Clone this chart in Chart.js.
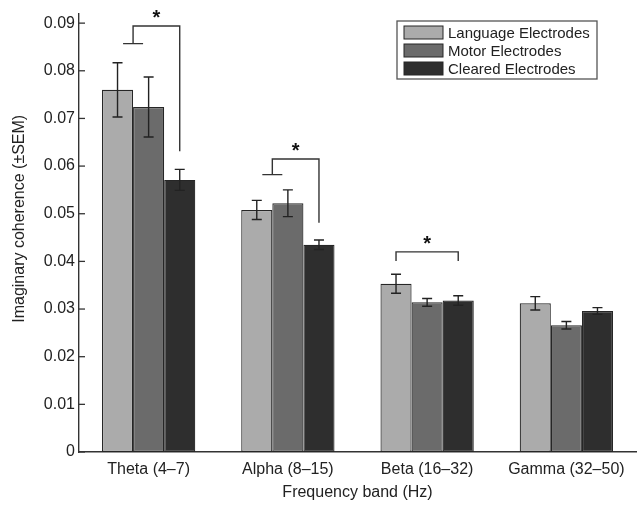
<!DOCTYPE html>
<html>
<head>
<meta charset="utf-8">
<script src="https://cdn.jsdelivr.net/npm/chart.js@4/dist/chart.umd.min.js"></script>
<style>
  html, body { margin: 0; padding: 0; background: #fff; }
  #wrap { width: 644px; height: 506px; }
</style>
</head>
<body>
<div id="wrap"><canvas id="cohChart"></canvas></div>
<script>
const categories = ["Theta (4\u20137)", "Alpha (8\u201315)", "Beta (16\u201332)", "Gamma (32\u201350)"];
const seriesNames = ["Language Electrodes", "Motor Electrodes", "Cleared Electrodes"];
const language = [0.0760, 0.0508, 0.0353, 0.0312];
const motor = [0.0724, 0.0522, 0.0314, 0.0266];
const cleared = [0.0571, 0.0435, 0.0318, 0.0296];
const languageSem = [0.0057, 0.0020, 0.0020, 0.0014];
const motorSem = [0.0063, 0.0028, 0.0008, 0.0008];
const clearedSem = [0.0022, 0.0010, 0.0010, 0.0007];
const yTicks = [0, 0.01, 0.02, 0.03, 0.04, 0.05, 0.06, 0.07, 0.08, 0.09];
const yTitle = "Imaginary coherence (\u00b1SEM)";

// significance brackets: category, left bars, left end level, top level, right end level
const bracketCats = [0, 1, 2];
const bracketLeftBars = [[0, 1], [0, 1], [0]];
const bracketLeftEnd = [0.0857, 0.0582, 0.0401];
const bracketTop = [0.0894, 0.0615, 0.0420];
const bracketRightEnd = [0.0631, 0.0481, 0.0401];

const colors = { light: "#ababab", mid: "#6b6b6b", dark: "#2e2e2e", edge: "#262626", ink: "#222" };
const FONT = "'Liberation Sans', Arial, sans-serif";

const semByDataset = [languageSem, motorSem, clearedSem];

const errorBars = {
  id: "errorBars",
  afterDatasetsDraw(chart) {
    const { ctx } = chart;
    const y = chart.scales.y;
    ctx.save();
    ctx.strokeStyle = colors.ink;
    ctx.lineWidth = 1.4;
    chart.data.datasets.forEach((ds, di) => {
      const meta = chart.getDatasetMeta(di);
      meta.data.forEach((bar, i) => {
        const v = ds.data[i], e = semByDataset[di][i];
        const yt = y.getPixelForValue(v + e), yb = y.getPixelForValue(v - e);
        ctx.beginPath();
        ctx.moveTo(bar.x, yt); ctx.lineTo(bar.x, yb);
        ctx.moveTo(bar.x - 5, yt); ctx.lineTo(bar.x + 5, yt);
        ctx.moveTo(bar.x - 5, yb); ctx.lineTo(bar.x + 5, yb);
        ctx.stroke();
      });
    });
    ctx.restore();
  }
};

const brackets = {
  id: "brackets",
  afterDatasetsDraw(chart) {
    const { ctx } = chart;
    const y = chart.scales.y;
    ctx.save();
    ctx.strokeStyle = "#333";
    ctx.lineWidth = 1.4;
    bracketCats.forEach((c, k) => {
      const lefts = bracketLeftBars[k].map(di => chart.getDatasetMeta(di).data[c].x);
      const xl = lefts.reduce((a, b) => a + b, 0) / lefts.length;
      const xr = chart.getDatasetMeta(2).data[c].x;
      const yTop = y.getPixelForValue(bracketTop[k]);
      const yL = y.getPixelForValue(bracketLeftEnd[k]);
      const yR = y.getPixelForValue(bracketRightEnd[k]);
      ctx.beginPath();
      if (lefts.length > 1) {
        ctx.moveTo(xl - 10, yL); ctx.lineTo(xl + 10, yL);
      }
      ctx.moveTo(xl, yL); ctx.lineTo(xl, yTop); ctx.lineTo(xr, yTop); ctx.lineTo(xr, yR);
      ctx.stroke();
      ctx.fillStyle = "#111";
      ctx.font = "bold 20px " + FONT;
      ctx.textAlign = "center";
      ctx.textBaseline = "alphabetic";
      ctx.fillText("*", (xl + xr) / 2, yTop - 2);
    });
    ctx.restore();
  }
};

const axisExtras = {
  id: "axisExtras",
  afterDraw(chart) {
    const { ctx, chartArea } = chart;
    const y = chart.scales.y;
    ctx.save();
    // inward tick marks
    ctx.strokeStyle = "#333";
    ctx.lineWidth = 1.3;
    y.ticks.forEach(t => {
      const py = y.getPixelForValue(t.value);
      ctx.beginPath();
      ctx.moveTo(chartArea.left, py); ctx.lineTo(chartArea.left + 6, py);
      ctx.stroke();
    });
    // y title, sitting a little above the plot middle as in the figure
    ctx.translate(20, (chartArea.top + chartArea.bottom) / 2 - 14);
    ctx.rotate(-Math.PI / 2);
    ctx.fillStyle = colors.ink;
    ctx.font = "16px " + FONT;
    ctx.textAlign = "center";
    ctx.textBaseline = "middle";
    ctx.fillText(yTitle, 0, 0);
    ctx.restore();
  }
};

const boxLegend = {
  id: "boxLegend",
  afterDraw(chart) {
    const { ctx } = chart;
    const left = 397, top = 21, w = 200, h = 58;
    ctx.save();
    ctx.fillStyle = "#fff";
    ctx.fillRect(left, top, w, h);
    ctx.strokeStyle = "#555";
    ctx.lineWidth = 1.3;
    ctx.strokeRect(left, top, w, h);
    ctx.font = "15px " + FONT;
    ctx.textBaseline = "middle";
    ctx.textAlign = "left";
    chart.data.datasets.forEach((ds, i) => {
      const cy = top + 11.5 + i * 18;
      ctx.fillStyle = ds.backgroundColor;
      ctx.fillRect(left + 7, cy - 6.5, 39, 13);
      ctx.strokeStyle = colors.edge;
      ctx.lineWidth = 1;
      ctx.strokeRect(left + 7, cy - 6.5, 39, 13);
      ctx.fillStyle = colors.ink;
      ctx.fillText(ds.label, left + 51, cy + 1);
    });
    ctx.restore();
  }
};

new Chart(document.getElementById("cohChart"), {
  type: "bar",
  data: {
    labels: categories,
    datasets: [
      { label: seriesNames[0], data: language, backgroundColor: colors.light },
      { label: seriesNames[1], data: motor, backgroundColor: colors.mid },
      { label: seriesNames[2], data: cleared, backgroundColor: colors.dark }
    ].map(d => Object.assign(d, {
      borderColor: colors.edge, borderWidth: 1.2, borderSkipped: false,
      categoryPercentage: 0.67, barPercentage: 1.0
    }))
  },
  options: {
    responsive: true,
    maintainAspectRatio: false,
    animation: false,
    layout: { padding: { left: 0, right: 8, top: 13, bottom: 0 } },
    plugins: { legend: { display: false }, tooltip: { enabled: false } },
    scales: {
      x: {
        grid: { display: false, drawTicks: false },
        border: { display: true, color: "#333", width: 1.4 },
        ticks: { color: colors.ink, font: { family: FONT, size: 16 }, padding: 8 },
        title: { display: true, text: "Frequency band (Hz)", color: colors.ink, font: { family: FONT, size: 16 }, padding: { top: 0, bottom: 4 } },
        afterFit(s) { s.height = 54; }
      },
      y: {
        min: 0,
        max: 0.092,
        grid: { display: false, drawTicks: false },
        border: { display: true, color: "#333", width: 1.4 },
        afterBuildTicks(s) { s.ticks = yTicks.map(v => ({ value: v })); },
        ticks: {
          color: colors.ink, font: { family: FONT, size: 16 }, padding: 4,
          callback: v => v === 0 ? "0" : String(Math.round(v * 100) / 100)
        },
        afterFit(s) { s.width = 79; }
      }
    }
  },
  plugins: [errorBars, brackets, axisExtras, boxLegend]
});
</script>
</body>
</html>
